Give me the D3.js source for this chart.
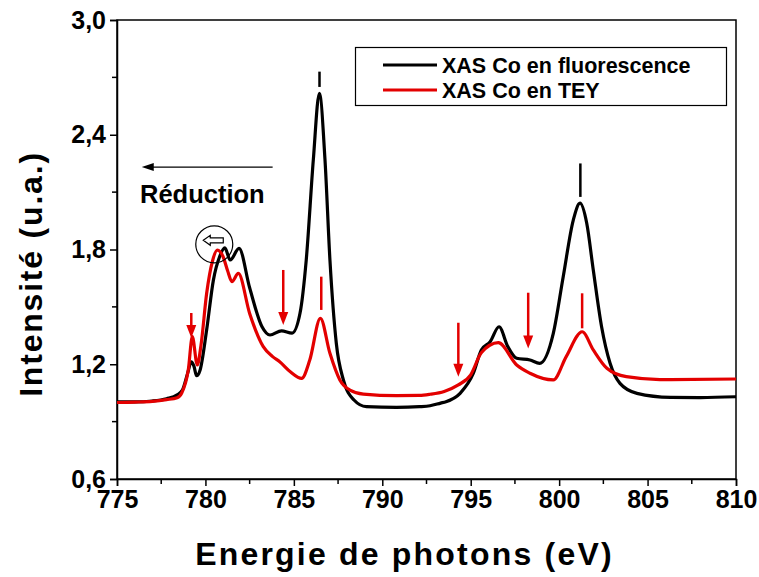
<!DOCTYPE html>
<html><head><meta charset="utf-8">
<script src="https://cdn.jsdelivr.net/npm/d3@7"></script>
<style>body{margin:0;background:#fff}svg{display:block}text{font-family:"Liberation Sans",Arial,sans-serif;font-weight:bold}</style>
</head><body><svg id="c" width="759" height="577"></svg>
<script>
// Energy (eV) for fluorescence curve
const fluoX = [775,776,777,777.8,778.4,778.7,779.0,779.2,779.35,779.5,779.7,780.07,780.45,780.8,781.1,781.4,781.9,782.5,783.2,783.65,784.3,784.9,785.35,785.7,786.1,786.44,786.76,787.04,787.4,787.8,788.4,789.1,790.8,792.1,792.7,793.3,793.6,794.4,795.15,795.6,796.1,796.6,797.1,797.6,798.35,798.9,799.67,800.23,800.8,801.18,801.56,801.93,802.4,802.88,803.44,804.4,806.3,808,810];
const fluoY = [1.003,1.003,1.008,1.02,1.04,1.065,1.155,1.213,1.19,1.14,1.17,1.38,1.64,1.762,1.808,1.745,1.806,1.60,1.396,1.353,1.375,1.363,1.468,1.745,2.268,2.617,2.27,1.745,1.31,1.118,1.013,0.978,0.974,0.978,0.983,0.997,1.004,1.048,1.153,1.275,1.318,1.396,1.292,1.231,1.222,1.205,1.362,1.658,1.954,2.042,1.937,1.693,1.396,1.205,1.10,1.048,1.027,1.026,1.03];
// Energy (eV) for TEY curve
const teyX = [775,776,777,777.8,778.4,778.66,779.03,779.26,779.54,779.75,780.07,780.4,780.67,781.0,781.25,781.5,781.86,782.5,783.27,783.8,784.2,784.8,785.44,785.9,786.5,787.04,787.6,788.17,788.93,790.8,792.1,792.7,793.5,794.3,795.0,795.6,796.56,797.6,798.35,799.67,800.4,801.3,801.93,802.7,803.8,805.7,810];
const teyY = [1.0,1.002,1.006,1.015,1.025,1.05,1.17,1.344,1.196,1.30,1.571,1.74,1.797,1.762,1.69,1.632,1.675,1.466,1.292,1.24,1.213,1.161,1.126,1.222,1.44,1.257,1.118,1.065,1.044,1.036,1.037,1.043,1.058,1.092,1.145,1.26,1.313,1.196,1.153,1.118,1.24,1.37,1.275,1.179,1.135,1.12,1.123];
const seriesNames = ["XAS Co en fluorescence","XAS Co en TEY"];
const seriesColors = ["#000000","#e30000"];
const xTicks = [775,780,785,790,795,800,805,810];
const yTicks = [0.6,1.2,1.8,2.4,3.0];
const yTickLabels = ["0,6","1,2","1,8","2,4","3,0"];
// annotation marks: vertical bars [x, yBottom, yTop]
const blackBars = [[786.45,2.65,2.73],[801.2,2.075,2.25]];
const redBars = [[786.55,1.484,1.658],[801.3,1.388,1.571]];
// red down arrows [x, yTop, yTip]
const redArrows = [[779.2,1.468,1.337],[784.4,1.693,1.405],[794.3,1.417,1.135],[798.25,1.574,1.283]];
const circleMark = [780.5,1.827];
const reducArrow = [783.8,776.4,2.231];
const reducText = [776.3,2.045,"Réduction"];

const svg = d3.select("#c");
const L=117,R=736,T=20,B=479;
const x = d3.scaleLinear().domain([775,810]).range([L,R]);
const y = d3.scaleLinear().domain([0.6,3.0]).range([B,T]);

// frame
svg.append("rect").attr("x",L).attr("y",T).attr("width",R-L).attr("height",B-T)
  .attr("fill","none").attr("stroke","#000").attr("stroke-width",1.5);

// x axis
const xa = svg.append("g").attr("transform",`translate(0,${B})`)
  .call(d3.axisBottom(x).tickValues(xTicks).tickSize(7).tickPadding(4).tickFormat(d3.format("d")));
xa.select(".domain").attr("stroke-width",1.5);
xa.selectAll(".tick line").attr("stroke-width",1.5);
xa.selectAll("text").attr("font-size",25).attr("fill","#000");
const xMinor = d3.range(777.5,810,5);
svg.append("g").selectAll("line").data(xMinor).join("line")
  .attr("x1",d=>x(d)).attr("x2",d=>x(d)).attr("y1",B).attr("y2",B+5)
  .attr("stroke","#000").attr("stroke-width",1.5);

// y axis
const ya = svg.append("g").attr("transform",`translate(${L},0)`)
  .call(d3.axisLeft(y).tickValues(yTicks).tickSize(7).tickPadding(4).tickFormat((d,i)=>yTickLabels[i]));
ya.select(".domain").attr("stroke-width",1.5);
ya.selectAll(".tick line").attr("stroke-width",1.5);
ya.selectAll("text").attr("font-size",25).attr("fill","#000");
const yMinor = [0.9,1.5,2.1,2.7];
svg.append("g").selectAll("line").data(yMinor).join("line")
  .attr("x1",L-5).attr("x2",L).attr("y1",d=>y(d)).attr("y2",d=>y(d))
  .attr("stroke","#000").attr("stroke-width",1.5);

// titles
svg.append("text").attr("x",(L+R)/2-22).attr("y",565).attr("text-anchor","middle")
  .attr("font-size",32).attr("letter-spacing",2.2).text("Energie de photons (eV)");
svg.append("text").attr("transform",`translate(42,${274}) rotate(-90)`).attr("text-anchor","middle")
  .attr("font-size",32).attr("letter-spacing",1.8).text("Intensité (u.a.)");

// curves
const line = d3.line().x(d=>x(d[0])).y(d=>y(d[1])).curve(d3.curveMonotoneX);
const clip = svg.append("clipPath").attr("id","clp").append("rect").attr("x",L).attr("y",T).attr("width",R-L).attr("height",B-T);
svg.append("path").datum(fluoX.map((v,i)=>[v,fluoY[i]])).attr("d",line)
  .attr("fill","none").attr("stroke",seriesColors[0]).attr("stroke-width",3.2).attr("stroke-linejoin","round").attr("clip-path","url(#clp)");
svg.append("path").datum(teyX.map((v,i)=>[v,teyY[i]])).attr("d",line)
  .attr("fill","none").attr("stroke",seriesColors[1]).attr("stroke-width",3.2).attr("stroke-linejoin","round").attr("clip-path","url(#clp)");

// bars
svg.append("g").selectAll("line").data(blackBars).join("line")
  .attr("x1",d=>x(d[0])).attr("x2",d=>x(d[0])).attr("y1",d=>y(d[1])).attr("y2",d=>y(d[2]))
  .attr("stroke","#000").attr("stroke-width",2.5);
svg.append("g").selectAll("line").data(redBars).join("line")
  .attr("x1",d=>x(d[0])).attr("x2",d=>x(d[0])).attr("y1",d=>y(d[1])).attr("y2",d=>y(d[2]))
  .attr("stroke",seriesColors[1]).attr("stroke-width",2.5);
// red arrows
const ra = svg.append("g").selectAll("g").data(redArrows).join("g");
ra.append("line").attr("x1",d=>x(d[0])).attr("x2",d=>x(d[0])).attr("y1",d=>y(d[1])).attr("y2",d=>y(d[2])-8)
  .attr("stroke",seriesColors[1]).attr("stroke-width",2.5);
ra.append("path").attr("d",d=>{const px=x(d[0]),py=y(d[2]);return `M${px-5},${py-13}L${px+5},${py-13}L${px},${py}Z`;})
  .attr("fill",seriesColors[1]);

// circle with hollow arrow
const cx=x(circleMark[0]), cy=y(circleMark[1]);
svg.append("circle").attr("cx",cx).attr("cy",cy).attr("r",18.5).attr("fill","none").attr("stroke","#000").attr("stroke-width",1.2);
svg.append("path").attr("d",`M${cx-11},${cy-4}L${cx-4},${cy-9}L${cx-4},${cy-6.5}L${cx+9},${cy-6.5}L${cx+9},${cy-1.5}L${cx-4},${cy-1.5}L${cx-4},${cy+1}Z`)
  .attr("fill","#fff").attr("stroke","#000").attr("stroke-width",1.2);

// Réduction arrow and text
svg.append("line").attr("x1",x(reducArrow[0])).attr("x2",x(reducArrow[1])+8).attr("y1",y(reducArrow[2])).attr("y2",y(reducArrow[2]))
  .attr("stroke","#000").attr("stroke-width",1.2);
svg.append("path").attr("d",()=>{const px=x(reducArrow[1]),py=y(reducArrow[2]);return `M${px},${py}L${px+12},${py-4}L${px+12},${py+4}Z`;}).attr("fill","#000");
svg.append("text").attr("x",x(reducText[0])).attr("y",y(reducText[1])).attr("font-size",25.5).text(reducText[2]);

// legend
const lg = svg.append("g");
lg.append("rect").attr("x",355.5).attr("y",47.5).attr("width",371).attr("height",58).attr("fill","#fff").attr("stroke","#000").attr("stroke-width",1.2);
seriesNames.forEach((n,i)=>{
  const yy = 65+i*25;
  lg.append("line").attr("x1",383).attr("x2",437).attr("y1",yy).attr("y2",yy).attr("stroke",seriesColors[i]).attr("stroke-width",3);
  lg.append("text").attr("x",442).attr("y",yy+8).attr("font-size",21.5).text(n);
});
</script></body></html>
